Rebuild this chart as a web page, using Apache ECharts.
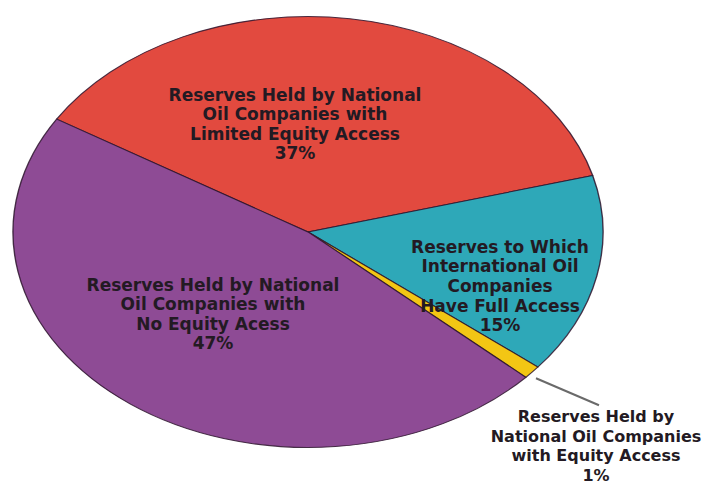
<!DOCTYPE html>
<html><head><meta charset="utf-8">
<script src="https://cdn.jsdelivr.net/npm/echarts@6/dist/echarts.min.js"></script>
<style>
html,body{margin:0;padding:0;background:#fff;overflow:hidden;width:704px;height:486px;}
#pie{position:absolute;left:0;top:0;width:704px;height:486px;transform-origin:308px 232px;transform:scaleX(1.369);}
#labels{position:absolute;left:0;top:0;width:704px;height:486px;}
</style></head><body>
<div id="pie"></div><div id="labels"></div>
<script>
// ---- data ----
const categories = [
  'Reserves Held by National\nOil Companies with\nLimited Equity Access',
  'Reserves to Which\nInternational Oil\nCompanies\nHave Full Access',
  'Reserves Held by\nNational Oil Companies\nwith Equity Access',
  'Reserves Held by National\nOil Companies with\nNo Equity Acess'
];
const values = [37, 15, 1, 47];
const percentLabels = ['37%', '15%', '1%', '47%'];

// ---- style / layout ----
const sliceColors = ['#E24A3F', '#2EA8B8', '#F3C614', '#8E4B95'];
const startAngle = 148.4;
const cx = 308, cy = 232, ry = 215.5, stretch = 1.369;
const labelPos = [[295, 124], [500, 286], [596, 446], [213, 314]];
const labelSize = [17, 17, 16, 17];

const pie = echarts.init(document.getElementById('pie'), null, {renderer: 'svg'});
pie.setOption({
  animation: false,
  series: [{
    type: 'pie',
    center: [cx, cy],
    radius: ry,
    startAngle: startAngle,
    clockwise: true,
    label: {show: false},
    labelLine: {show: false},
    emphasis: {disabled: true},
    itemStyle: {borderColor: 'rgba(45,20,45,0.85)', borderWidth: 1},
    data: values.map((v, i) => ({
      value: v,
      name: categories[i],
      itemStyle: {color: sliceColors[i]}
    }))
  }]
});

// leader line for the small slice, derived from its data angle
const total = values.reduce((a, b) => a + b, 0);
let before = 0;
for (let i = 0; i < 2; i++) before += values[i];
const midDeg = startAngle - (before + values[2] / 2) / total * 360;
const rad = midDeg * Math.PI / 180;
const x0 = cx + ry * stretch * Math.cos(rad) + 4;
const y0 = cy - ry * Math.sin(rad) + 6;

const labels = echarts.init(document.getElementById('labels'), null, {renderer: 'svg'});
const graphics = categories.map((c, i) => ({
  type: 'text',
  x: labelPos[i][0],
  y: labelPos[i][1],
  style: {
    text: c + '\n' + percentLabels[i],
    align: 'center',
    verticalAlign: 'middle',
    font: 'bold ' + labelSize[i] + 'px "DejaVu Sans", Verdana, sans-serif',
    lineHeight: 19.6,
    fill: '#231a23'
  }
}));
graphics.push({
  type: 'line',
  shape: {x1: x0, y1: y0, x2: x0 + 63, y2: y0 + 27},
  style: {stroke: '#6a6a6a', lineWidth: 2}
});
labels.setOption({animation: false, graphic: graphics});
</script>
</body></html>
